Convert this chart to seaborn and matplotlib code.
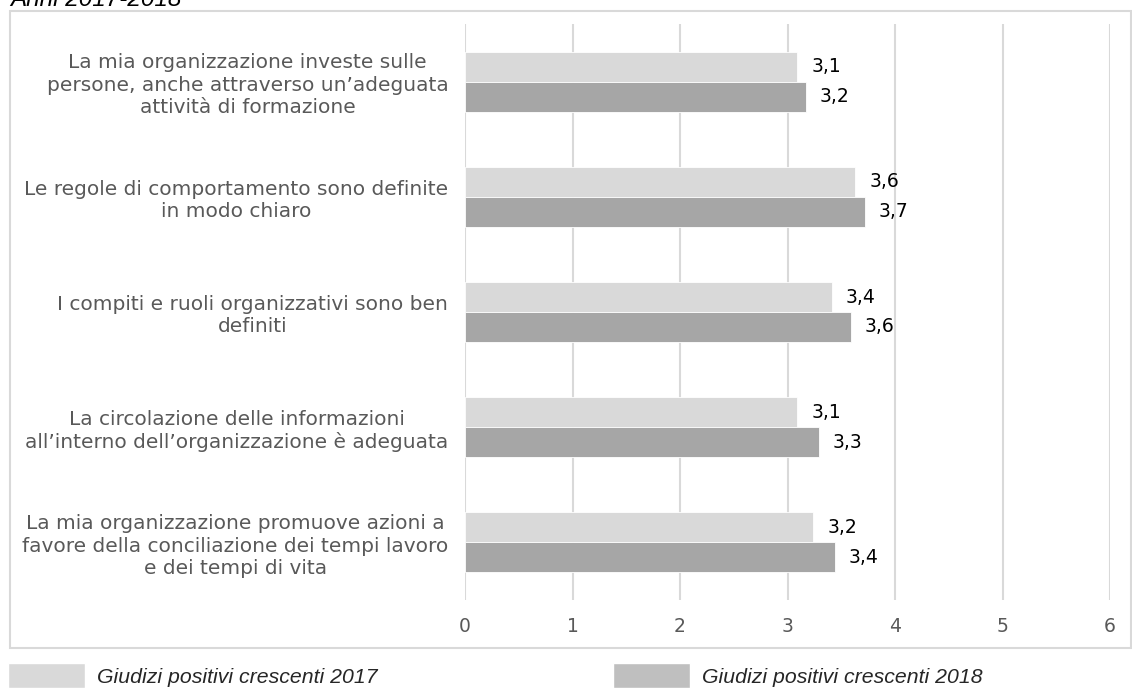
import pandas as pd
import matplotlib
matplotlib.use('Agg')
import matplotlib.pyplot as plt
from matplotlib.patches import Rectangle, Patch
import seaborn as sns

# Domande (asse y) e valori
domande = [
    'La mia organizzazione investe sulle\npersone, anche attraverso un\u2019adeguata\nattivit\u00e0 di formazione',
    'Le regole di comportamento sono definite\nin modo chiaro',
    'I compiti e ruoli organizzativi sono ben\ndefiniti',
    'La circolazione delle informazioni\nall\u2019interno dell\u2019organizzazione \u00e8 adeguata',
    'La mia organizzazione promuove azioni a\nfavore della conciliazione dei tempi lavoro\ne dei tempi di vita',
]
valori_2017 = [3.09, 3.63, 3.41, 3.09, 3.24]
valori_2018 = [3.17, 3.72, 3.59, 3.29, 3.44]
serie = ['Giudizi positivi crescenti 2017', 'Giudizi positivi crescenti 2018']
colori = ['#d9d9d9', '#a6a6a6']
x_ticks = [0, 1, 2, 3, 4, 5, 6]

df = pd.DataFrame({
    'domanda': domande * 2,
    'valore': valori_2017 + valori_2018,
    'serie': [serie[0]] * len(domande) + [serie[1]] * len(domande),
})

sns.set_theme(style='white')
plt.rcParams['font.family'] = ['DejaVu Sans']

fig = plt.figure(figsize=(11.32, 6.88), dpi=100)
ax = fig.add_axes([465 / 1132, 88 / 688, 645 / 1132, 576 / 688])

sns.barplot(data=df, y='domanda', x='valore', hue='serie', orient='h',
            palette=colori, width=0.52, edgecolor='white', linewidth=0.6,
            ax=ax, legend=False)

# etichette dei valori con la virgola decimale
for cont in ax.containers:
    labels = ['{:.1f}'.format(b.get_width()).replace('.', ',') for b in cont]
    ax.bar_label(cont, labels=labels, padding=10, fontsize=13.5, color='black')

ax.set_xlim(0, 6)
ax.set_ylim(4.5, -0.5)
ax.set_xticks(x_ticks)
ax.set_xticklabels([str(t) for t in x_ticks], fontsize=13.5, color='#595959')
ax.tick_params(axis='x', length=0, pad=12)
ax.tick_params(axis='y', length=0, pad=12)
for lab in ax.get_yticklabels():
    lab.set_fontsize(14.5)
    lab.set_color('#595959')
    lab.set_multialignment('center')
    lab.set_linespacing(1.22)
ax.xaxis.grid(True, color='#d9d9d9', linewidth=1.5)
ax.set_axisbelow(True)
for s in ax.spines.values():
    s.set_visible(False)
ax.set_xlabel('')
ax.set_ylabel('')

# cornice del grafico
fig.patches.append(Rectangle((10 / 1132, 40 / 688), 1121 / 1132, 637 / 688,
                             transform=fig.transFigure, fill=False,
                             edgecolor='#d9d9d9', linewidth=1.5))

# titolo tagliato in alto
fig.text(10 / 1132, 1 - 6 / 688, 'Anni 2017-2018', fontsize=17.5, style='italic',
         family='Liberation Sans', va='baseline', ha='left', color='black')

# legenda sotto la cornice
handles = [Patch(facecolor=colori[0]), Patch(facecolor='#bfbfbf')]
fig.legend(handles, serie, loc='lower left', bbox_to_anchor=(8 / 1132, 0),
           ncol=2, frameon=False, borderaxespad=0, borderpad=0,
           prop={'family': 'Liberation Sans', 'style': 'italic', 'size': 15.3},
           handlelength=3.62, handleheight=1.41, handletextpad=0.56,
           columnspacing=11.1)

fig.savefig('out.png', dpi=100)
